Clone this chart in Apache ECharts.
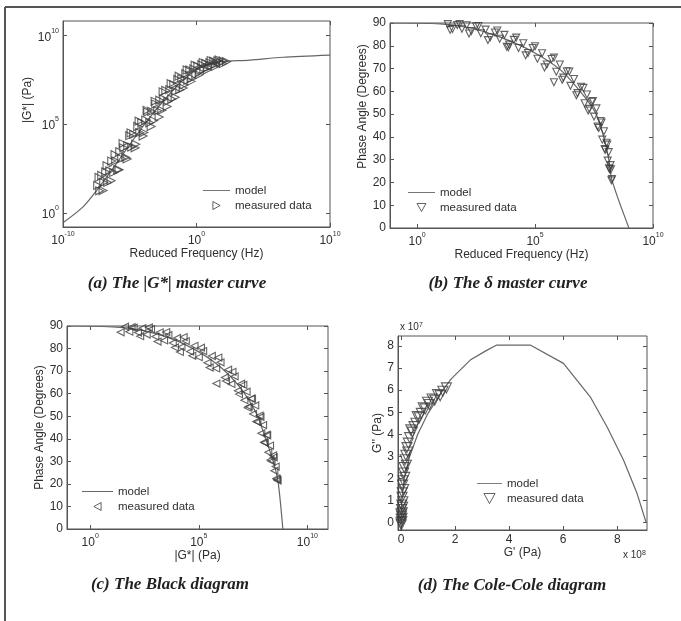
<!DOCTYPE html>
<html>
<head>
<meta charset="utf-8">
<script src="https://cdn.jsdelivr.net/npm/echarts@6/dist/echarts.min.js"></script>
<style>
  html, body { margin: 0; padding: 0; background: #fff; }
  #chart { width: 681px; height: 621px; }
</style>
</head>
<body>
<div id="chart"></div>
<script>
// (a) |G*| master curve, values are log10 of Hz and log10 of Pa
const freqExpModelA = [-10, -8.5, -7.45, -5.96, -4.76, -3.48, -2.21, -1.01, 0.26, 1.54, 4.0, 6.48, 10];
const gExpModelA = [-0.56, 0.33, 1.29, 2.81, 4.10, 5.39, 6.52, 7.47, 8.15, 8.48, 8.6, 8.76, 8.88];
const freqExpDataA = [-7.4, -7.25, -7.1, -6.95, -6.8, -6.65, -6.5, -6.35, -6.2, -6.05, -5.9, -5.75, -5.6, -5.45, -5.3, -5.15,
  -5.0, -4.85, -4.7, -4.55, -4.4, -4.25, -4.1, -3.95, -3.8, -3.65, -3.5, -3.35, -3.2, -3.05, -2.9, -2.75, -2.6, -2.45,
  -2.3, -2.15, -2.0, -1.85, -1.7, -1.55, -1.4, -1.25, -1.1, -0.95, -0.8, -0.65, -0.5, -0.35, -0.2, -0.05, 0.1, 0.25,
  0.4, 0.55, 0.7, 0.85, 1.0, 1.15, 1.3, 1.45, 1.6, 1.8, 2.0, 2.25,
  -7.3, -7.0, -6.7, -6.4, -6.1, -5.8, -5.5, -5.2, -4.9, -4.6, -4.3, -4.0, -3.7, -3.4, -3.1, -2.8, -2.5, -2.2, -1.9,
  -1.6, -1.3, -1.0, -0.7, -0.4, -0.1, 0.2, 0.5, 0.8, 1.1, 1.4, 1.7, 2.0];
const gExpDataA = [1.54, 1.24, 2.10, 1.70, 2.30, 1.71, 2.36, 2.91, 2.27, 2.92, 2.42, 3.44, 3.05, 3.66, 3.12, 3.78,
  4.34, 3.70, 4.41, 3.86, 4.86, 4.51, 5.07, 4.52, 5.22, 5.67, 5.07, 5.71, 5.19, 6.12, 5.75, 6.34, 5.77, 6.41,
  6.89, 6.27, 6.94, 6.41, 7.22, 6.84, 7.51, 6.93, 7.55, 7.20, 7.83, 7.46, 8.04, 7.57, 8.10, 7.78, 8.26, 7.94,
  8.34, 8.08, 8.41, 8.18, 8.46, 8.28, 8.54, 8.38, 8.56, 8.44, 8.55, 8.51,
  1.99, 1.25, 2.65, 1.81, 3.27, 2.43, 3.90, 3.03, 4.50, 3.66, 5.16, 4.32, 5.77, 4.86, 6.28, 5.40, 6.81, 5.98, 7.27,
  6.50, 7.69, 7.03, 8.04, 7.40, 8.31, 7.77, 8.46, 8.04, 8.57, 8.24, 8.61, 8.40];

// (b) phase angle master curve, log10 Hz vs degrees
const freqExpModelB = [-1.15, 0.98, 2.26, 3.53, 4.94, 6.09, 6.94, 7.57, 7.91, 8.13, 8.26, 8.98];
const phaseModelB = [90, 89.6, 87.8, 83.8, 77.2, 69.3, 59.6, 50.4, 40, 29.8, 21, 0];
const freqExpDataB = [1.3, 1.5, 1.7, 1.9, 2.1, 2.3, 2.5, 2.7, 2.9, 3.1, 3.3, 3.5, 3.7, 3.87, 3.9, 4.1, 4.3, 4.5, 4.7,
  4.9, 5.1, 5.3, 5.5, 5.7, 5.8, 5.9, 6.05, 6.2, 6.35, 6.5, 6.65, 6.8, 6.95, 7.1, 7.2, 7.3, 7.4, 7.5, 7.6, 7.7, 7.78,
  7.85, 7.92, 7.98, 8.03, 8.08, 8.12, 8.16, 8.2, 8.24, 8.26,
  1.4, 1.8, 2.2, 2.6, 3.0, 3.4, 3.8, 4.2, 4.6, 5.0, 5.4, 5.8, 6.15, 6.45, 6.75, 7.05, 7.25, 7.45, 7.65, 7.82, 7.95,
  8.06, 8.14, 8.22];
const phaseDataB = [89.5, 87.4, 89.1, 87.5, 89.0, 86.5, 88.6, 85.5, 87.1, 83.7, 85.8, 83.1, 84.8, 79.3, 80.5, 82.6, 79.0,
  81.1, 76.8, 79.0, 74.3, 76.7, 71.8, 74.2, 64.0, 68.6, 71.8, 66.0, 68.8, 62.4, 65.4, 59.2, 62.0, 54.8, 58.6, 52.3,
  55.4, 48.9, 52.5, 43.9, 47.0, 38.8, 42.5, 34.3, 37.4, 29.6, 33.3, 25.8, 27.6, 20.9, 21.5,
  87.0, 89.5, 85.4, 88.7, 82.5, 86.7, 79.6, 83.6, 75.8, 79.8, 70.5, 74.8, 65.1, 68.7, 58.3, 61.5, 51.6, 55.7, 44.5,
  46.3, 34.7, 36.6, 26.2, 25.8];

// (c) Black diagram, log10 |G*| (Pa) vs degrees
const gExpModelC = [-1.07, 1.22, 2.75, 4.28, 5.81, 6.88, 7.65, 8.1, 8.41, 8.64, 8.87];
const phaseModelC = [90, 89.5, 87.3, 82.2, 73.3, 63.0, 51.2, 39.4, 30.5, 21.7, 0];
const gExpDataC = [1.6, 1.8, 2.0, 2.2, 2.4, 2.6, 2.8, 3.0, 3.2, 3.4, 3.6, 3.8, 4.0, 4.13, 4.2, 4.4, 4.6, 4.8, 5.0, 5.2,
  5.4, 5.6, 5.81, 5.8, 6.0, 6.2, 6.35, 6.5, 6.65, 6.8, 6.95, 7.1, 7.2, 7.3, 7.4, 7.5, 7.6, 7.7, 7.8, 7.88, 7.96,
  8.04, 8.12, 8.2, 8.28, 8.35, 8.42, 8.48, 8.54, 8.6, 8.63,
  1.4, 1.9, 2.3, 2.7, 3.1, 3.5, 3.9, 4.3, 4.7, 5.1, 5.5, 5.9, 6.25, 6.55, 6.85, 7.05, 7.25, 7.45, 7.65, 7.84, 8.0,
  8.15, 8.3, 8.45, 8.57];
const phaseDataC = [89.7, 87.5, 89.3, 87.1, 89.0, 86.2, 88.6, 85.3, 87.2, 83.6, 86.0, 82.5, 84.7, 78.5, 80.7, 83.3,
  78.7, 81.2, 76.2, 78.9, 73.7, 76.7, 64.5, 71.2, 73.9, 67.2, 70.6, 64.3, 67.7, 61.3, 64.4, 57.1, 60.9, 54.3, 57.8,
  51.0, 54.8, 47.4, 50.3, 42.4, 46.1, 38.2, 41.8, 34.0, 37.0, 30.0, 32.6, 25.8, 27.7, 22.0, 21.5,
  87.2, 89.5, 85.5, 89.4, 83.1, 87.3, 80.5, 85.1, 76.8, 80.4, 71.6, 76.0, 65.6, 69.7, 59.8, 63.9, 53.8, 57.8, 47.7,
  49.7, 38.5, 41.5, 30.6, 31.8, 22.4];

// (d) Cole-Cole diagram, G' in 1e8 Pa, G'' in 1e7 Pa
const storageModelD = [0, 0.03, 0.12, 0.32, 0.62, 1.0, 1.55, 1.85, 2.56, 3.17, 3.54, 4.78, 6.01, 7.0, 7.62, 8.23, 8.73, 9.07];
const lossModelD = [0, 1.0, 2.0, 3.0, 4.0, 4.95, 6.0, 6.5, 7.36, 7.8, 8.04, 8.04, 7.21, 5.7, 4.34, 2.84, 1.33, 0];
const storageDataD = [1.68, 1.55, 1.45, 1.35, 1.25, 1.15, 1.05, 0.98, 0.9, 0.82, 0.75, 0.68, 0.6, 0.55, 0.48, 0.42, 0.36,
  0.32, 0.27, 0.22, 0.25, 0.18, 0.15, 0.2, 0.12, 0.1, 0.14, 0.08, 0.06, 0.1, 0.05, 0.04, 0.07, 0.03, 0.02, 0.05, 0.02,
  0.01, 0.03, 0.0, 0.01, 0.04, 0.0, 0.06];
const lossDataD = [6.1, 5.95, 5.75, 5.8, 5.55, 5.6, 5.35, 5.45, 5.15, 5.2, 4.95, 4.75, 4.8, 4.5, 4.35, 4.1, 4.2, 3.85,
  3.6, 3.4, 3.2, 3.05, 2.85, 2.6, 2.5, 2.25, 2.05, 1.9, 1.7, 1.5, 1.35, 1.15, 0.95, 0.8, 0.6, 0.45, 0.3, 0.15, 0.05,
  0.0, -0.1, 0.2, 0.4, 0.7];

const expTicksA = [-10, 0, 10];
const expTicksAy = [0, 5, 10];
const expTicksBC = [0, 5, 10];
const phaseTicks = [0, 10, 20, 30, 40, 50, 60, 70, 80, 90];
const storageTicks = [0, 2, 4, 6, 8];
const lossTicks = [0, 1, 2, 3, 4, 5, 6, 7, 8];
const captions = ['(a) The |G*| master curve', '(b) The \u03b4 master curve', '(c) The Black diagram', '(d) The Cole-Cole diagram'];

const zip = (xs, ys) => xs.map((x, i) => [x, ys[i]]);
const FONT = 'Liberation Sans, Arial, sans-serif';
const TXT = '#2e2e2e';
const AX = '#555';
const MARK = '#3c3c3c';

const powLabel = {
  formatter: v => '{b|10}{s|' + v + '}',
  rich: {
    b: { fontSize: 12, lineHeight: 16, verticalAlign: 'bottom', fontFamily: FONT, color: TXT },
    s: { fontSize: 7, lineHeight: 8, verticalAlign: 'top', fontFamily: FONT, color: TXT }
  }
};

function axis(opt) {
  const { ticks, pow, name, nameGap, namePad, ...rest } = opt;
  return Object.assign({
    type: 'value',
    name: name,
    nameLocation: 'middle',
    nameGap: nameGap,
    nameTextStyle: { fontFamily: FONT, fontSize: 12, color: TXT, padding: namePad || 0 },
    axisLine: { show: true, onZero: false, lineStyle: { color: AX, width: 1 } },
    axisTick: { show: true, inside: true, length: 4, customValues: ticks, lineStyle: { color: AX } },
    axisLabel: Object.assign({ customValues: ticks, fontFamily: FONT, fontSize: 12, color: TXT, margin: 4 }, pow ? powLabel : {}),
    splitLine: { show: false }
  }, rest);
}
// mirrored tick marks on the top / right edges, as MATLAB draws them
function mirror(gridIndex, position, min, max, ticks) {
  return {
    type: 'value', gridIndex: gridIndex, position: position, min: min, max: max,
    axisLine: { show: false, onZero: false },
    axisTick: { show: true, inside: true, length: 4, customValues: ticks, lineStyle: { color: AX } },
    axisLabel: { show: false, customValues: ticks },
    splitLine: { show: false }
  };
}

const lineSeries = (name, idx, data) => ({
  name: name, type: 'line', xAxisIndex: idx, yAxisIndex: idx, data: data,
  symbol: 'none', smooth: idx === 3 ? false : 0.3,
  lineStyle: { color: '#666', width: 1.2 }, itemStyle: { color: '#666' }, z: 2
});
const dotSeries = (name, idx, data, rot, size) => ({
  name: name, type: 'scatter', xAxisIndex: idx, yAxisIndex: idx, data: data,
  symbol: 'triangle', symbolRotate: rot, symbolSize: size,
  itemStyle: { color: 'rgba(255,255,255,0)', borderColor: MARK, borderWidth: 1.1 }, z: 3
});
const lineIcon = 'path://M0,0H30V1H0Z';
const triIcon = {
  right: 'path://M0,0L9,5L0,10Z',
  down: 'path://M0,0L10,0L5,9Z',
  left: 'path://M9,0L0,5L9,10Z'
};
const legendAt = (tag, icon, left, top, w, h) => ({
  data: [
    { name: 'model|' + tag, icon: lineIcon, itemStyle: { color: '#666' } },
    { name: 'measured data|' + tag, icon: icon, symbolRotate: 0,
      itemStyle: { color: 'rgba(255,255,255,0)', borderColor: MARK, borderWidth: 1 } }
  ],
  orient: 'vertical', left: left, top: top, padding: 0,
  itemWidth: w, itemHeight: h, itemGap: 2, symbolKeepAspect: true,
  formatter: n => n.split('|')[0],
  textStyle: { fontFamily: FONT, fontSize: 11.5, color: TXT, lineHeight: 13 }
});

const chart = echarts.init(document.getElementById('chart'), null, { renderer: 'canvas' });
chart.setOption({
  backgroundColor: '#fff',
  animation: false,
  grid: [
    { left: 63, top: 21, width: 267, height: 206, show: true, borderColor: AX, borderWidth: 1 },
    { left: 390, top: 23, width: 263, height: 205, show: true, borderColor: AX, borderWidth: 1 },
    { left: 67, top: 326, width: 261, height: 203, show: true, borderColor: AX, borderWidth: 1 },
    { left: 398, top: 336, width: 249, height: 194, show: true, borderColor: AX, borderWidth: 1 }
  ],
  xAxis: [
    axis({ gridIndex: 0, min: -10, max: 10, ticks: expTicksA, pow: true, name: 'Reduced Frequency (Hz)', nameGap: 21 }),
    axis({ gridIndex: 1, min: -1.15, max: 10, ticks: expTicksBC, pow: true, name: 'Reduced Frequency (Hz)', nameGap: 20 }),
    axis({ gridIndex: 2, min: -1.07, max: 10.95, ticks: expTicksBC, pow: true, name: '|G*| (Pa)', nameGap: 21 }),
    axis({ gridIndex: 3, min: -0.11, max: 9.1, ticks: storageTicks, name: "G' (Pa)", nameGap: 13 }),
    mirror(0, 'top', -10, 10, expTicksA),
    mirror(1, 'top', -1.15, 10, expTicksBC),
    mirror(2, 'top', -1.07, 10.95, expTicksBC),
    mirror(3, 'top', -0.11, 9.1, storageTicks)
  ],
  yAxis: [
    axis({ gridIndex: 0, min: -0.8, max: 10.8, ticks: expTicksAy, pow: true, name: '|G*| (Pa)', nameGap: 24, namePad: [0, 0, 0, 48] }),
    axis({ gridIndex: 1, min: 0, max: 90, ticks: phaseTicks, name: 'Phase Angle (Degrees)', nameGap: 18, namePad: [0, 0, 0, 38] }),
    axis({ gridIndex: 2, min: 0, max: 90, ticks: phaseTicks, name: 'Phase Angle (Degrees)', nameGap: 21 }),
    axis({ gridIndex: 3, min: -0.33, max: 8.45, ticks: lossTicks, name: "G'' (Pa)", nameGap: 12 }),
    mirror(0, 'right', -0.8, 10.8, expTicksAy),
    mirror(1, 'right', 0, 90, phaseTicks),
    mirror(2, 'right', 0, 90, phaseTicks),
    mirror(3, 'right', -0.33, 8.45, lossTicks)
  ],
  legend: [
    legendAt('a', triIcon.right, 203, 184, 27, 8),
    legendAt('b', triIcon.down, 408, 186, 27, 8),
    legendAt('c', triIcon.left, 82, 485, 31, 8),
    legendAt('d', triIcon.down, 477, 477, 25, 10)
  ],
  title: captions.map((t, i) => ({
    text: t, left: [177, 508, 170, 512][i], top: [275, 275, 576, 577][i], textAlign: 'center', padding: 0,
    textStyle: { fontFamily: 'Liberation Serif, Times New Roman, serif', fontStyle: 'italic', fontWeight: 'bold', fontSize: 17, color: '#222' }
  })),
  graphic: [
    { type: 'line', shape: { x1: 5, y1: 7, x2: 681, y2: 7 }, style: { stroke: '#555', lineWidth: 2 } },
    { type: 'line', shape: { x1: 5, y1: 7, x2: 5, y2: 621 }, style: { stroke: '#555', lineWidth: 2 } },
    { type: 'text', left: 400, top: 322, style: { text: 'x 10{s|7}', fontFamily: FONT, fontSize: 10, fill: TXT,
      rich: { s: { fontSize: 7, verticalAlign: 'top', lineHeight: 8, fontFamily: FONT, fill: TXT } } } },
    { type: 'text', left: 623, top: 550, style: { text: 'x 10{s|8}', fontFamily: FONT, fontSize: 10, fill: TXT,
      rich: { s: { fontSize: 7, verticalAlign: 'top', lineHeight: 8, fontFamily: FONT, fill: TXT } } } }
  ],
  series: [
    lineSeries('model|a', 0, zip(freqExpModelA, gExpModelA)),
    dotSeries('measured data|a', 0, zip(freqExpDataA, gExpDataA), -90, 8),
    lineSeries('model|b', 1, zip(freqExpModelB, phaseModelB)),
    dotSeries('measured data|b', 1, zip(freqExpDataB, phaseDataB), 180, 7),
    lineSeries('model|c', 2, zip(gExpModelC, phaseModelC)),
    dotSeries('measured data|c', 2, zip(gExpDataC, phaseDataC), 90, 7),
    lineSeries('model|d', 3, zip(storageModelD, lossModelD)),
    dotSeries('measured data|d', 3, zip(storageDataD, lossDataD), 180, 10)
  ]
});
</script>
</body>
</html>
